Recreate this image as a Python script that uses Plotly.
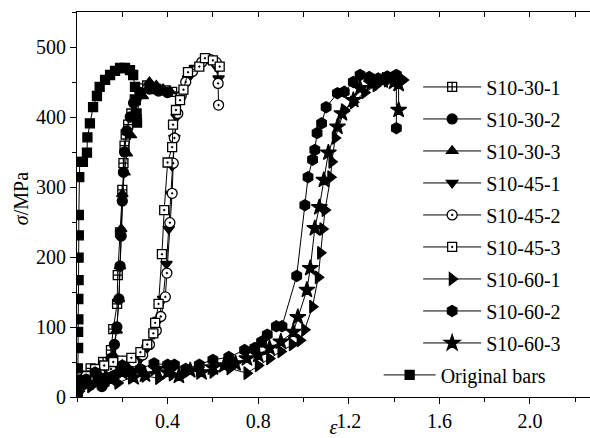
import plotly.graph_objects as go

# ---------------- data ----------------
names = ["S10-30-1", "S10-30-2", "S10-30-3", "S10-45-1", "S10-45-2",
         "S10-45-3", "S10-60-1", "S10-60-2", "S10-60-3", "Original bars"]

x_30_1 = [0, 0.03, 0.06, 0.09, 0.115, 0.14, 0.15, 0.16, 0.177, 0.18, 0.19, 0.2, 0.205, 0.21, 0.215, 0.226, 0.24, 0.255, 0.275, 0.31, 0.35, 0.39, 0.42]
y_30_1 = [5, 25, 41, 30, 50, 40, 67, 97, 133, 174, 235, 296, 334, 359, 375, 389, 405, 425, 441, 445, 440, 438, 436]

x_30_2 = [0, 0.02, 0.05, 0.08, 0.11, 0.13, 0.15, 0.165, 0.176, 0.185, 0.19, 0.195, 0.2, 0.205, 0.21, 0.22, 0.235, 0.25, 0.28, 0.32, 0.36, 0.40]
y_30_2 = [0, 20, 30, 25, 15, 35, 55, 75, 100, 140, 187, 230, 280, 321, 350, 380, 400, 420, 435, 440, 437, 435]

x_30_3 = [0, 0.03, 0.06, 0.1, 0.13, 0.16, 0.175, 0.185, 0.19, 0.195, 0.2, 0.21, 0.22, 0.238, 0.26, 0.29, 0.32, 0.35, 0.38, 0.41]
y_30_3 = [5, 30, 20, 35, 25, 60, 95, 140, 187, 240, 290, 321, 348, 374, 405, 430, 450, 445, 440, 437]

x_45_1 = [0, 0.06, 0.12, 0.18, 0.23, 0.28, 0.31, 0.34, 0.36, 0.38, 0.395, 0.405, 0.415, 0.42, 0.43, 0.44, 0.46, 0.49, 0.52, 0.56, 0.6, 0.62, 0.625]
y_45_1 = [10, 30, 25, 40, 45, 55, 70, 90, 110, 140, 190, 240, 290, 330, 370, 400, 430, 455, 470, 480, 480, 470, 455]

x_45_2 = [0, 0.05, 0.1, 0.15, 0.2, 0.25, 0.29, 0.32, 0.35, 0.37, 0.39, 0.397, 0.41, 0.42, 0.425, 0.43, 0.445, 0.46, 0.48, 0.51, 0.55, 0.59, 0.615, 0.623, 0.625]
y_45_2 = [5, 25, 35, 40, 45, 50, 60, 75, 95, 115, 143, 177, 249, 291, 334, 370, 405, 430, 450, 465, 478, 482, 478, 448, 417]

x_45_3 = [0, 0.04, 0.08, 0.12, 0.16, 0.2, 0.24, 0.28, 0.31, 0.337, 0.345, 0.36, 0.375, 0.385, 0.40, 0.42, 0.424, 0.437, 0.455, 0.47, 0.49, 0.54, 0.565, 0.6, 0.63]
y_45_3 = [10, 30, 40, 45, 50, 52, 56, 64, 75, 91, 106, 133, 204, 267, 335, 357, 389, 410, 424, 439, 464, 472, 484, 481, 472]

x_60_1 = [0, 0.06, 0.12, 0.18, 0.24, 0.3, 0.36, 0.42, 0.48, 0.54, 0.6, 0.675, 0.75, 0.8, 0.85, 0.9, 0.95, 0.985, 1.005, 1.04, 1.065, 1.075, 1.085, 1.095, 1.12, 1.125, 1.14, 1.18, 1.22, 1.27, 1.32, 1.37, 1.41, 1.44]
y_60_1 = [5, 15, 25, 20, 28, 30, 27, 32, 35, 38, 36, 41, 34, 45, 55, 65, 75, 81, 96, 129, 171, 206, 240, 267, 314, 336, 370, 410, 421, 435, 445, 452, 455, 453]

x_60_2 = [0, 0.04, 0.08, 0.12, 0.16, 0.2, 0.24, 0.28, 0.34, 0.4, 0.43, 0.48, 0.54, 0.6, 0.67, 0.74, 0.785, 0.815, 0.84, 0.88, 0.905, 0.97, 1.006, 1.02, 1.04, 1.05, 1.06, 1.08, 1.10, 1.15, 1.18, 1.22, 1.25, 1.29, 1.33, 1.37, 1.41, 1.41]
y_60_2 = [0, 25, 35, 20, 30, 45, 35, 40, 48, 46, 46, 40, 46, 53, 57, 67, 70, 79, 89, 101, 101, 173, 274, 314, 339, 353, 377, 391, 414, 434, 436, 450, 460, 457, 455, 458, 460, 384]

x_60_3 = [0, 0.05, 0.1, 0.15, 0.2, 0.25, 0.3, 0.35, 0.4, 0.45, 0.5, 0.55, 0.6, 0.65, 0.7, 0.75, 0.8, 0.85, 0.9, 0.955, 0.975, 1.015, 1.03, 1.05, 1.07, 1.09, 1.11, 1.15, 1.17, 1.22, 1.25, 1.3, 1.35, 1.4, 1.42, 1.42]
y_60_3 = [5, 20, 30, 25, 35, 28, 32, 40, 35, 30, 38, 35, 42, 45, 48, 55, 60, 70, 79, 93, 114, 153, 184, 241, 271, 310, 349, 386, 405, 424, 441, 448, 452, 450, 447, 410]

x_orig = [0, 0.002, 0.003, 0.004, 0.005, 0.005, 0.006, 0.006, 0.007, 0.007, 0.008, 0.008, 0.01, 0.012, 0.026, 0.044, 0.046, 0.057, 0.071, 0.088, 0.10, 0.124, 0.146, 0.168, 0.19, 0.212, 0.234, 0.248, 0.256, 0.26, 0.263, 0.265]
y_orig = [0, 10, 24, 41, 70, 93, 111, 140, 167, 199, 231, 260, 314, 336, 336, 349, 371, 391, 414, 430, 443, 453, 460, 466, 470, 470, 467, 460, 443, 424, 405, 392]

xs = [x_30_1, x_30_2, x_30_3, x_45_1, x_45_2, x_45_3, x_60_1, x_60_2, x_60_3, x_orig]
ys = [y_30_1, y_30_2, y_30_3, y_45_1, y_45_2, y_45_3, y_60_1, y_60_2, y_60_3, y_orig]

x_ticks = [0.4, 0.8, 1.2, 1.6, 2.0]
y_ticks = [0, 100, 200, 300, 400, 500]

# ---------------- styles ----------------
symbols = ["square-cross", "circle", "triangle-up", "triangle-down", "circle-dot",
           "square-dot", "triangle-right", "hexagon", "star", "square"]
fills = ["white", "black", "black", "black", "white",
         "white", "black", "black", "black", "black"]
sizes = [9, 10, 10, 10, 10, 9, 11, 11, 12, 9]

FONT = "Liberation Serif"

fig = go.Figure()
for i, n in enumerate(names):
    fig.add_trace(go.Scatter(
        x=xs[i], y=ys[i], name=n, mode="lines+markers",
        line=dict(color="black", width=1),
        marker=dict(symbol=symbols[i], size=sizes[i], color=fills[i],
                    line=dict(color="black", width=1.3)),
        legendgroup=n,
        legend="legend2" if n == "Original bars" else "legend",
    ))

# invisible trace on top axis so it is drawn
fig.add_trace(go.Scatter(x=[0], y=[0], xaxis="x2", mode="markers",
                         marker=dict(opacity=0), showlegend=False, hoverinfo="skip"))

fig.update_layout(
    width=590, height=438,
    margin=dict(l=77, r=0, t=12, b=41),
    paper_bgcolor="white", plot_bgcolor="white",
    font=dict(family=FONT, size=20, color="black"),
    showlegend=True,
    legend=dict(x=0.665, y=0.856, xanchor="left", yanchor="top",
                bgcolor="rgba(0,0,0,0)", tracegroupgap=3, itemwidth=58,
                font=dict(family=FONT, size=20)),
    legend2=dict(x=0.588, y=0.108, xanchor="left", yanchor="top",
                 bgcolor="rgba(0,0,0,0)", itemwidth=52,
                 font=dict(family=FONT, size=20)),
    xaxis=dict(range=[0, 2.265], showline=True, linecolor="black", linewidth=1.2,
               tickvals=x_ticks, ticktext=[f"{v:.1f}" for v in x_ticks],
               ticks="outside", ticklen=6, tickcolor="black",
               minor=dict(dtick=0.2, tick0=0, ticks="outside", ticklen=4, tickcolor="black"),
               showgrid=False, zeroline=False,
               title=dict(text="<i>ε</i>", standoff=6, font=dict(size=20)),
               automargin=False),
    xaxis2=dict(range=[0, 2.265], overlaying="x", side="top", showline=True,
                linecolor="black", linewidth=1.2, dtick=0.2, tick0=0,
                ticks="inside", ticklen=5, tickcolor="black",
                showticklabels=False, showgrid=False, zeroline=False),
    yaxis=dict(range=[0, 550], showline=True, linecolor="black", linewidth=1.2,
               tickvals=y_ticks, ticks="outside", ticklen=6, tickcolor="black",
               minor=dict(dtick=50, tick0=0, ticks="outside", ticklen=4, tickcolor="black"),
               showgrid=False, zeroline=False, automargin=False),
    annotations=[dict(text="<i>σ</i>/MPa", textangle=-90, xref="paper", yref="paper",
                      x=-0.109, y=0.514, xanchor="center", yanchor="middle",
                      showarrow=False, font=dict(family=FONT, size=20))],
)

fig.write_html("out.html")
